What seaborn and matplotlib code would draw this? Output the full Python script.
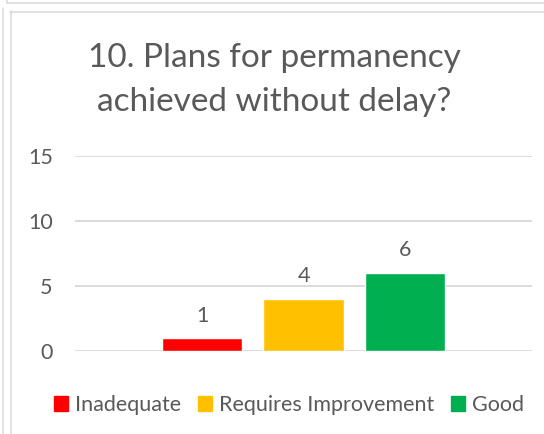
"""Recreate the 'Plans for permanency' Excel-style bar chart with seaborn."""
import matplotlib
matplotlib.use("Agg")
import matplotlib.pyplot as plt
from matplotlib.lines import Line2D
import pandas as pd
import seaborn as sns

# data
question = "10. Plans for permanency\nachieved without delay?"
ratings = ["Inadequate", "Requires Improvement", "Good"]
counts = [1, 4, 6]
colours = ["#FF0000", "#FFC000", "#00B050"]
y_ticks = [0, 5, 10, 15]

TEXT = "#595959"
GRID = "#D9D9D9"

sns.set_theme(style="white")
plt.rcParams["font.family"] = ["Lato", "DejaVu Sans"]

df = pd.DataFrame({"group": [""] * len(ratings), "rating": ratings, "count": counts})

W, H = 544, 434
fig = plt.figure(figsize=(W / 100, H / 100), dpi=100)
fig.patch.set_facecolor("white")

# axes placed in pixel coords: x 75..532, y(0)=351, y(15)=156
x0, x1, y_bot, y_top = 75, 532, 351, 156
ax = fig.add_axes([x0 / W, (H - y_bot) / H, (x1 - x0) / W, (y_bot - y_top) / H])

sns.barplot(data=df, x="group", y="count", hue="rating", hue_order=ratings,
            palette=colours, width=0.666, gap=0.21, saturation=1,
            legend=False, ax=ax)

ax.set_ylim(0, 15)
ax.set_xlim(-0.5, 0.5)
ax.set_yticks(y_ticks)
ax.set_xticks([])
ax.set_xlabel("")
ax.set_ylabel("")
ax.grid(axis="y", color=GRID, linewidth=1.3)
ax.set_axisbelow(True)
for s in ax.spines.values():
    s.set_visible(False)
ax.tick_params(axis="y", length=0, pad=16, labelsize=15.5, labelcolor=TEXT)

for cont in ax.containers:
    ax.bar_label(cont, padding=9, fontsize=15.5, color=TEXT)

fig.text(274 / W, 1 - 80 / H, question, ha="center", va="center",
         fontsize=24, color=TEXT, linespacing=1.58)

handles = [plt.Rectangle((0, 0), 1, 1, color=c) for c in colours]
fig.legend(handles, ratings, loc="center", bbox_to_anchor=(289 / W, 1 - 405 / H),
           ncol=3, frameon=False, fontsize=15.5, labelcolor=TEXT,
           handlelength=0.65, handleheight=0.65, handletextpad=0.3,
           columnspacing=0.8)

# light frame lines of the pasted chart area
def px_line(xs, ys, lw=1.1):
    fig.add_artist(Line2D([x / W for x in xs], [1 - y / H for y in ys],
                          color=GRID, linewidth=lw))

px_line([7, W], [2.5, 2.5])
px_line([2.5, 2.5], [8, H])
px_line([7, 7], [0, 3])
px_line([10, W], [11.5, 11.5])
px_line([10.5, 10.5], [11, H])

fig.savefig("out.png", dpi=100, facecolor="white")
